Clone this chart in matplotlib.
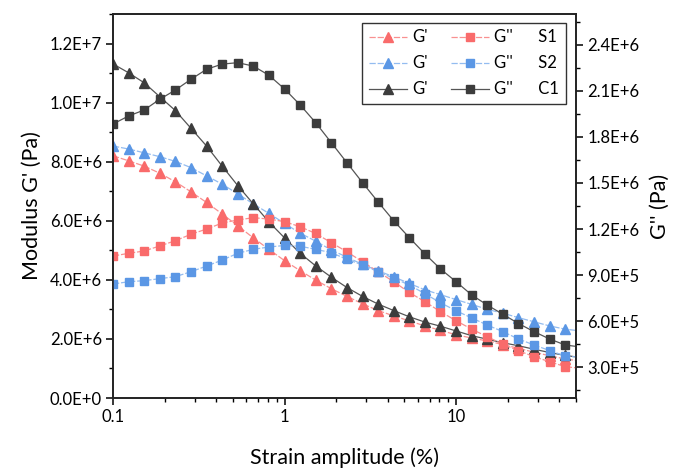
import numpy as np
import matplotlib.pyplot as plt
from matplotlib.ticker import FuncFormatter, MultipleLocator, LogLocator, NullFormatter

plt.rcParams['font.family'] = ['Lato', 'DejaVu Sans']

# strain amplitude (%)
strain = [0.1, 0.1233, 0.152, 0.1874, 0.231, 0.2848, 0.3511, 0.4329, 0.5337, 0.6579,
          0.8111, 1.0, 1.233, 1.52, 1.874, 2.31, 2.848, 3.511, 4.329, 5.337,
          6.579, 8.111, 10.0, 12.33, 15.2, 18.74, 23.1, 28.48, 35.11, 43.29, 53.37]

# storage modulus G' (1E6 Pa)
s1_gp = [8.20, 8.03, 7.85, 7.61, 7.32, 6.98, 6.62, 6.23, 5.83, 5.42,
         5.03, 4.65, 4.31, 3.99, 3.70, 3.44, 3.19, 2.96, 2.78, 2.61,
         2.44, 2.29, 2.14, 2.03, 1.93, 1.81, 1.68, 1.55, 1.43, 1.32, 1.25]
s2_gp = [8.53, 8.43, 8.30, 8.17, 8.01, 7.80, 7.52, 7.24, 6.91, 6.57,
         6.25, 5.91, 5.58, 5.31, 5.01, 4.77, 4.52, 4.31, 4.10, 3.88,
         3.66, 3.50, 3.33, 3.17, 3.00, 2.87, 2.72, 2.58, 2.44, 2.33, 2.27]
c1_gp = [11.31, 11.01, 10.67, 10.20, 9.73, 9.13, 8.53, 7.85, 7.19, 6.57,
         5.96, 5.42, 4.90, 4.47, 4.09, 3.74, 3.44, 3.18, 2.96, 2.75,
         2.57, 2.43, 2.27, 2.11, 1.99, 1.87, 1.77, 1.65, 1.54, 1.44, 1.37]

# loss modulus G'' (1E6 Pa)
s1_gpp = [1.024, 1.042, 1.057, 1.090, 1.124, 1.166, 1.200, 1.239, 1.259, 1.274,
          1.265, 1.248, 1.215, 1.171, 1.111, 1.052, 0.987, 0.922, 0.857, 0.787,
          0.727, 0.662, 0.603, 0.548, 0.499, 0.450, 0.408, 0.369, 0.336, 0.304, 0.293]
s2_gpp = [0.842, 0.857, 0.864, 0.877, 0.890, 0.922, 0.959, 0.998, 1.042, 1.068,
          1.083, 1.093, 1.088, 1.068, 1.046, 1.003, 0.966, 0.922, 0.879, 0.836,
          0.779, 0.720, 0.668, 0.621, 0.575, 0.532, 0.484, 0.445, 0.409, 0.373, 0.365]
c1_gpp = [1.884, 1.936, 1.975, 2.045, 2.105, 2.175, 2.240, 2.274, 2.283, 2.261,
          2.201, 2.112, 2.008, 1.892, 1.762, 1.632, 1.502, 1.376, 1.254, 1.144,
          1.038, 0.940, 0.857, 0.771, 0.705, 0.645, 0.585, 0.532, 0.484, 0.445, 0.432]

samples = ['S1', 'S2', 'C1']
gp_data = [s1_gp, s2_gp, c1_gp]
gpp_data = [s1_gpp, s2_gpp, c1_gpp]
mark_cols = ['#F96B6B', '#5B97E5', '#3C3C3C']
line_cols = ['#F99090', '#93BCF0', '#555555']
line_styles = [(0, (5, 1.5)), (0, (5, 1.5)), '-']


def sci_fmt(v, pos):
    if v == 0:
        return '0.0E+0'
    e = int(np.floor(np.log10(abs(v)) + 1e-9))
    return f'{v / 10**e:.1f}E{e:+d}'


fig = plt.figure(figsize=(6.73, 4.69), dpi=100)
ax = fig.add_axes([113/673, 71/469, 463/673, 384/469])
ax2 = ax.twinx()

x = np.array(strain)
handles_gp = []
handles_gpp = []
for name, gp, gpp, mc, lc, ls in zip(samples, gp_data, gpp_data, mark_cols, line_cols, line_styles):
    h1, = ax.plot(x, np.array(gp) * 1e6, color=lc, ls=ls, lw=0.9, marker='^', ms=6.5,
                  mfc=mc, mec=mc, label="G'")
    h2, = ax2.plot(x, np.array(gpp) * 1e6, color=lc, ls=ls, lw=0.9, marker='s', ms=5.5,
                   mfc=mc, mec=mc, label="G''      " + name)
    handles_gp.append(h1)
    handles_gpp.append(h2)

ax.set_xscale('log')
ax.set_xlim(0.1, 50)
ax.set_ylim(0, 1.3e7)
ax2.set_ylim(1e5, 2.6e6)

ax.xaxis.set_major_locator(LogLocator(base=10))
ax.xaxis.set_minor_locator(LogLocator(base=10, subs=np.arange(2, 10)))
ax.xaxis.set_major_formatter(FuncFormatter(lambda v, p: f'{v:g}'))
ax.xaxis.set_minor_formatter(NullFormatter())

ax.yaxis.set_major_locator(MultipleLocator(2e6))
ax.yaxis.set_minor_locator(MultipleLocator(1e6))
ax.yaxis.set_major_formatter(FuncFormatter(sci_fmt))
ax2.yaxis.set_major_locator(MultipleLocator(3e5))
ax2.yaxis.set_minor_locator(MultipleLocator(1.5e5))
ax2.yaxis.set_major_formatter(FuncFormatter(sci_fmt))

for a in (ax, ax2):
    a.tick_params(which='major', direction='out', length=5, width=1.1, labelsize=12, pad=3)
    a.tick_params(which='minor', direction='out', length=3, width=1.0)
    for sp in a.spines.values():
        sp.set_linewidth(1.2)
        sp.set_color('#222222')

ax.set_xlabel('Strain amplitude (%)', fontsize=15.5, labelpad=16)
ax.set_ylabel("Modulus G' (Pa)", fontsize=15.5, labelpad=6)
ax2.set_ylabel("G'' (Pa)", fontsize=15.5, labelpad=8)

leg = ax2.legend(handles_gp + handles_gpp, [h.get_label() for h in handles_gp + handles_gpp],
                 ncol=2, loc='upper right', bbox_to_anchor=(0.978, 0.977), borderaxespad=0,
                 fontsize=12, frameon=True, fancybox=False, edgecolor='black',
                 handlelength=2.3, handletextpad=0.3, columnspacing=1.4,
                 labelspacing=0.6, borderpad=0.4)
leg.get_frame().set_linewidth(1.0)

fig.savefig('out.png', dpi=100)
